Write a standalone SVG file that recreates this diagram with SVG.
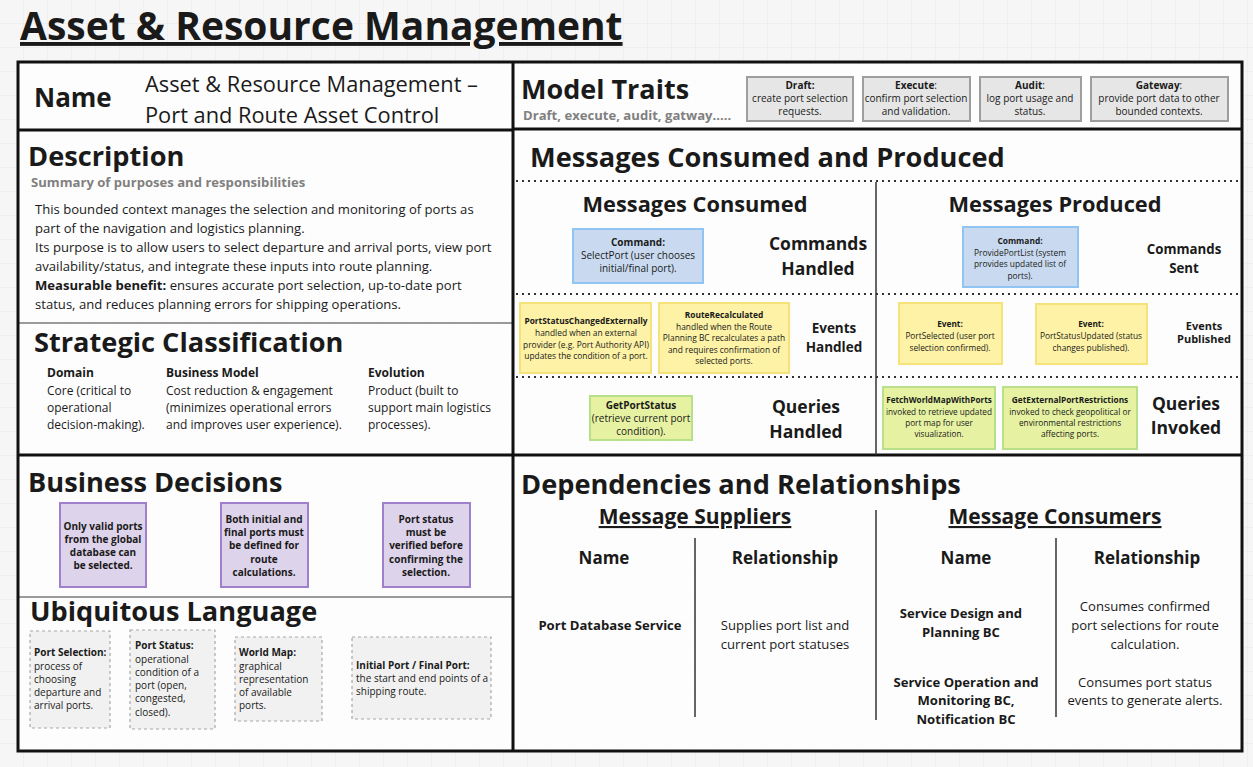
<svg xmlns="http://www.w3.org/2000/svg" width="1253" height="767" viewBox="0 0 1253 767">
<defs>
<pattern id="grid" width="24" height="24" patternUnits="userSpaceOnUse">
<path d="M24 0V24M0 24H24" fill="none" stroke="#e9e9e9" stroke-width="1"/>
</pattern>
<style>
text{font-family:"Open Sans","Liberation Sans",sans-serif;fill:#1a1a1a}
.h{font-weight:700;font-size:27.2px}
.sub{font-weight:700;font-size:13.1px;fill:#808080}
.body{font-size:13.1px}
.b{font-weight:700}
.c{text-anchor:middle}
.thick{stroke:#111;stroke-width:3;fill:none}
.thin{stroke:#9a9a9a;stroke-width:2;fill:none}
.dot{stroke:#333;stroke-width:2;stroke-dasharray:2 4;fill:none}
.vl{stroke:#333;stroke-width:1.5}
.trait{fill:#e6e6e6;stroke:#9e9e9e;stroke-width:2}
.cmd{fill:#c9daf0;stroke:#90c4f2;stroke-width:2}
.evt{fill:#fdf2a6;stroke:#f6e27a;stroke-width:2}
.qry{fill:#e6f2a2;stroke:#b8e08a;stroke-width:2}
.dec{fill:#ddd3ea;stroke:#a07fcd;stroke-width:2}
.ul{fill:#f1f1f1;stroke:#a8a8a8;stroke-width:1.2;stroke-dasharray:3 3}
.s10{font-size:10px}
.s85{font-size:8.4px}
.dep{font-size:13.1px}
</style>
</defs>
<rect width="1253" height="767" fill="#f6f6f6"/>
<rect width="1253" height="767" fill="url(#grid)"/>
<g id="title">
<text x="20" y="40" font-size="39" font-weight="700" text-decoration="underline">Asset &amp; Resource Management</text>
</g>
<g id="frame">
<rect x="18" y="62" width="1224" height="689" fill="#ffffff" fill-opacity="0.8"/>
<line class="thin" x1="18" y1="323" x2="513" y2="323"/>
<line class="thin" x1="18" y1="597" x2="513" y2="597"/>
<line class="thick" x1="18" y1="130" x2="513" y2="130"/>
<line class="thick" x1="513" y1="129" x2="1242" y2="129"/>
<line class="thick" x1="18" y1="455" x2="1242" y2="455"/>
<line class="thick" x1="513" y1="62" x2="513" y2="751"/>
<rect class="thick" x="18" y="62" width="1224" height="689"/>
</g>
<g id="name">
<text x="34" y="107" class="b" font-size="26">Name</text>
<text x="145" y="92" font-size="21.8">Asset &amp; Resource Management –</text>
<text x="145" y="123" font-size="21.8">Port and Route Asset Control</text>
</g>
<g id="model-traits">
<text x="521" y="99" class="b" font-size="27">Model Traits</text>
<text x="523" y="120" class="sub">Draft, execute, audit, gatway.....</text>
<rect class="trait" x="747" y="77" width="106" height="44"/>
<text class="c s10" x="800"><tspan x="800" y="89" class="b">Draft:</tspan><tspan x="800" y="102">create port selection</tspan><tspan x="800" y="115">requests.</tspan></text>
<rect class="trait" x="863" y="77" width="107" height="44"/>
<text class="c s10" x="916"><tspan x="916" y="89"><tspan class="b">Execute</tspan>:</tspan><tspan x="916" y="102">confirm port selection</tspan><tspan x="916" y="115">and validation.</tspan></text>
<rect class="trait" x="980" y="77" width="101" height="44"/>
<text class="c s10" x="1030"><tspan x="1030" y="89"><tspan class="b">Audit</tspan>:</tspan><tspan x="1030" y="102">log port usage and</tspan><tspan x="1030" y="115">status.</tspan></text>
<rect class="trait" x="1091" y="77" width="137" height="44"/>
<text class="c s10" x="1159"><tspan x="1159" y="89"><tspan class="b">Gateway</tspan>:</tspan><tspan x="1159" y="102">provide port data to other</tspan><tspan x="1159" y="115">bounded contexts.</tspan></text>
</g>
<g id="description">
<text x="28" y="166" class="h">Description</text>
<text x="31" y="187" class="sub">Summary of purposes and responsibilities</text>
<text class="body"><tspan x="35" y="214">This bounded context manages the selection and monitoring of ports as</tspan><tspan x="35" y="233">part of the navigation and logistics planning.</tspan><tspan x="35" y="252">Its purpose is to allow users to select departure and arrival ports, view port</tspan><tspan x="35" y="271">availability/status, and integrate these inputs into route planning.</tspan><tspan x="35" y="290"><tspan class="b">Measurable benefit:</tspan> ensures accurate port selection, up-to-date port</tspan><tspan x="35" y="309">status, and reduces planning errors for shipping operations.</tspan></text>
</g>
<g id="strategic-classification">
<text x="34" y="352" class="h">Strategic Classification</text>
<text font-size="12"><tspan x="47" y="377" class="b">Domain</tspan><tspan x="47" y="395">Core (critical to</tspan><tspan x="47" y="412">operational</tspan><tspan x="47" y="429">decision-making).</tspan></text>
<text font-size="12"><tspan x="166" y="377" class="b">Business Model</tspan><tspan x="166" y="395">Cost reduction &amp; engagement</tspan><tspan x="166" y="412">(minimizes operational errors</tspan><tspan x="166" y="429">and improves user experience).</tspan></text>
<text font-size="12"><tspan x="368" y="377" class="b">Evolution</tspan><tspan x="368" y="395">Product (built to</tspan><tspan x="368" y="412">support main logistics</tspan><tspan x="368" y="429">processes).</tspan></text>
</g>
<g id="business-decisions">
<text x="28" y="492" class="h">Business Decisions</text>
<rect class="dec" x="60" y="503" width="86" height="84"/>
<text class="c b s10"><tspan x="103" y="530">Only valid ports</tspan><tspan x="103" y="543">from the global</tspan><tspan x="103" y="556">database can</tspan><tspan x="103" y="569">be selected.</tspan></text>
<rect class="dec" x="221" y="503" width="87" height="84"/>
<text class="c b s10"><tspan x="264" y="523">Both initial and</tspan><tspan x="264" y="536">final ports must</tspan><tspan x="264" y="549">be defined for</tspan><tspan x="264" y="563">route</tspan><tspan x="264" y="576">calculations.</tspan></text>
<rect class="dec" x="383" y="503" width="87" height="84"/>
<text class="c b s10"><tspan x="426" y="523">Port status</tspan><tspan x="426" y="536">must be</tspan><tspan x="426" y="549">verified before</tspan><tspan x="426" y="563">confirming the</tspan><tspan x="426" y="576">selection.</tspan></text>
</g>
<g id="ubiquitous-language">
<text x="30" y="621" class="h">Ubiquitous Language</text>
<rect class="ul" x="30" y="631" width="80" height="97"/>
<text class="s10"><tspan x="34" y="656" class="b">Port Selection:</tspan><tspan x="34" y="670">process of</tspan><tspan x="34" y="683">choosing</tspan><tspan x="34" y="696">departure and</tspan><tspan x="34" y="709">arrival ports.</tspan></text>
<rect class="ul" x="130" y="630" width="85" height="99"/>
<text class="s10"><tspan x="135" y="649" class="b">Port Status:</tspan><tspan x="135" y="663">operational</tspan><tspan x="135" y="676">condition of a</tspan><tspan x="135" y="689">port (open,</tspan><tspan x="135" y="702">congested,</tspan><tspan x="135" y="716">closed).</tspan></text>
<rect class="ul" x="235" y="637" width="87" height="84"/>
<text class="s10"><tspan x="239" y="656" class="b">World Map:</tspan><tspan x="239" y="670">graphical</tspan><tspan x="239" y="683">representation</tspan><tspan x="239" y="696">of available</tspan><tspan x="239" y="709">ports.</tspan></text>
<rect class="ul" x="352" y="637" width="139" height="82"/>
<text class="s10"><tspan x="356" y="669" class="b">Initial Port / Final Port:</tspan><tspan x="356" y="682">the start and end points of a</tspan><tspan x="356" y="695">shipping route.</tspan></text>
</g>
<g id="messages">
<text x="530" y="167" class="h">Messages Consumed and Produced</text>
<line class="dot" x1="516" y1="181" x2="1240" y2="181"/>
<line class="dot" x1="516" y1="294" x2="1240" y2="294"/>
<line class="dot" x1="516" y1="377" x2="1240" y2="377"/>
<line class="vl" x1="876" y1="182" x2="876" y2="455"/>
<text x="695" y="212" class="c b" font-size="21.8">Messages Consumed</text>
<text x="1055" y="212" class="c b" font-size="21.8">Messages Produced</text>
</g>
<g id="commands-handled">
<rect class="cmd" x="573" y="229" width="130" height="54"/>
<text class="c s10"><tspan x="638" y="246" class="b">Command:</tspan><tspan x="638" y="259">SelectPort (user chooses</tspan><tspan x="638" y="272">initial/final port).</tspan></text>
<text class="c b" font-size="17.5"><tspan x="818" y="250">Commands</tspan><tspan x="818" y="275">Handled</tspan></text>
</g>
<g id="commands-sent">
<rect class="cmd" x="963" y="227" width="115" height="60"/>
<text class="c s85"><tspan x="1020" y="244" class="b">Command:</tspan><tspan x="1020" y="256">ProvidePortList (system</tspan><tspan x="1020" y="267">provides updated list of</tspan><tspan x="1020" y="279">ports).</tspan></text>
<text class="c b" font-size="13.3"><tspan x="1184" y="254">Commands</tspan><tspan x="1184" y="273">Sent</tspan></text>
</g>
<g id="events-handled">
<rect class="evt" x="520" y="303" width="131" height="70"/>
<text class="c s85"><tspan x="586" y="324" class="b">PortStatusChangedExternally</tspan><tspan x="586" y="336">handled when an external</tspan><tspan x="586" y="348">provider (e.g. Port Authority API)</tspan><tspan x="586" y="359">updates the condition of a port.</tspan></text>
<rect class="evt" x="659" y="303" width="130" height="70"/>
<text class="c s85"><tspan x="724" y="318" class="b">RouteRecalculated</tspan><tspan x="724" y="330">handled when the Route</tspan><tspan x="724" y="341">Planning BC recalculates a path</tspan><tspan x="724" y="353">and requires confirmation of</tspan><tspan x="724" y="364">selected ports.</tspan></text>
<text class="c b" font-size="13.5"><tspan x="834" y="333">Events</tspan><tspan x="834" y="352">Handled</tspan></text>
</g>
<g id="events-published">
<rect class="evt" x="899" y="303" width="103" height="61"/>
<text class="c" font-size="8.3"><tspan x="950" y="327" class="b">Event:</tspan><tspan x="950" y="339">PortSelected (user port</tspan><tspan x="950" y="351">selection confirmed).</tspan></text>
<rect class="evt" x="1036" y="304" width="111" height="60"/>
<text class="c" font-size="8.3"><tspan x="1091" y="327" class="b">Event:</tspan><tspan x="1091" y="339">PortStatusUpdated (status</tspan><tspan x="1091" y="351">changes published).</tspan></text>
<text class="c b" font-size="11"><tspan x="1204" y="330">Events</tspan><tspan x="1204" y="343">Published</tspan></text>
</g>
<g id="queries-handled">
<rect class="qry" x="590" y="396" width="102" height="44"/>
<text class="c s10"><tspan x="641" y="409" class="b">GetPortStatus</tspan><tspan x="641" y="422">(retrieve current port</tspan><tspan x="641" y="435">condition).</tspan></text>
<text class="c b" font-size="17.5"><tspan x="806" y="413">Queries</tspan><tspan x="806" y="438">Handled</tspan></text>
</g>
<g id="queries-invoked">
<rect class="qry" x="883" y="387" width="112" height="62"/>
<text class="c" font-size="8.2"><tspan x="939" y="403" class="b">FetchWorldMapWithPorts</tspan><tspan x="939" y="415">invoked to retrieve updated</tspan><tspan x="939" y="426">port map for user</tspan><tspan x="939" y="437">visualization.</tspan></text>
<rect class="qry" x="1003" y="387" width="134" height="62"/>
<text class="c" font-size="8.3"><tspan x="1070" y="403" class="b">GetExternalPortRestrictions</tspan><tspan x="1070" y="415">invoked to check geopolitical or</tspan><tspan x="1070" y="426">environmental restrictions</tspan><tspan x="1070" y="437">affecting ports.</tspan></text>
<text class="c b" font-size="17.5"><tspan x="1186" y="410">Queries</tspan><tspan x="1186" y="434">Invoked</tspan></text>
</g>
<g id="dependencies">
<text x="521" y="494" class="h">Dependencies and Relationships</text>
<line class="vl" x1="876" y1="510" x2="876" y2="720"/>
<line class="vl" x1="695" y1="538" x2="695" y2="717"/>
<line class="vl" x1="1056" y1="538" x2="1056" y2="717"/>
<text x="695" y="524" class="c b" font-size="21" text-decoration="underline">Message Suppliers</text>
<text x="1055" y="524" class="c b" font-size="21" text-decoration="underline">Message Consumers</text>
<text class="c b" font-size="17"><tspan x="604" y="564">Name</tspan><tspan x="785" y="564">Relationship</tspan><tspan x="966" y="564">Name</tspan><tspan x="1147" y="564">Relationship</tspan></text>
</g>
<g id="supplier-port-database">
<text x="610" y="630" class="c b dep">Port Database Service</text>
<text class="c dep"><tspan x="785" y="630">Supplies port list and</tspan><tspan x="785" y="649">current port statuses</tspan></text>
</g>
<g id="consumer-service-design">
<text class="c b dep"><tspan x="961" y="618">Service Design and</tspan><tspan x="961" y="637">Planning BC</tspan></text>
<text class="c dep"><tspan x="1145" y="611">Consumes confirmed</tspan><tspan x="1145" y="630">port selections for route</tspan><tspan x="1145" y="649">calculation.</tspan></text>
</g>
<g id="consumer-service-operation">
<text class="c b dep"><tspan x="966" y="687">Service Operation and</tspan><tspan x="966" y="705">Monitoring BC,</tspan><tspan x="966" y="724">Notification BC</tspan></text>
<text class="c dep"><tspan x="1145" y="687">Consumes port status</tspan><tspan x="1145" y="705">events to generate alerts.</tspan></text>
</g>
</svg>
